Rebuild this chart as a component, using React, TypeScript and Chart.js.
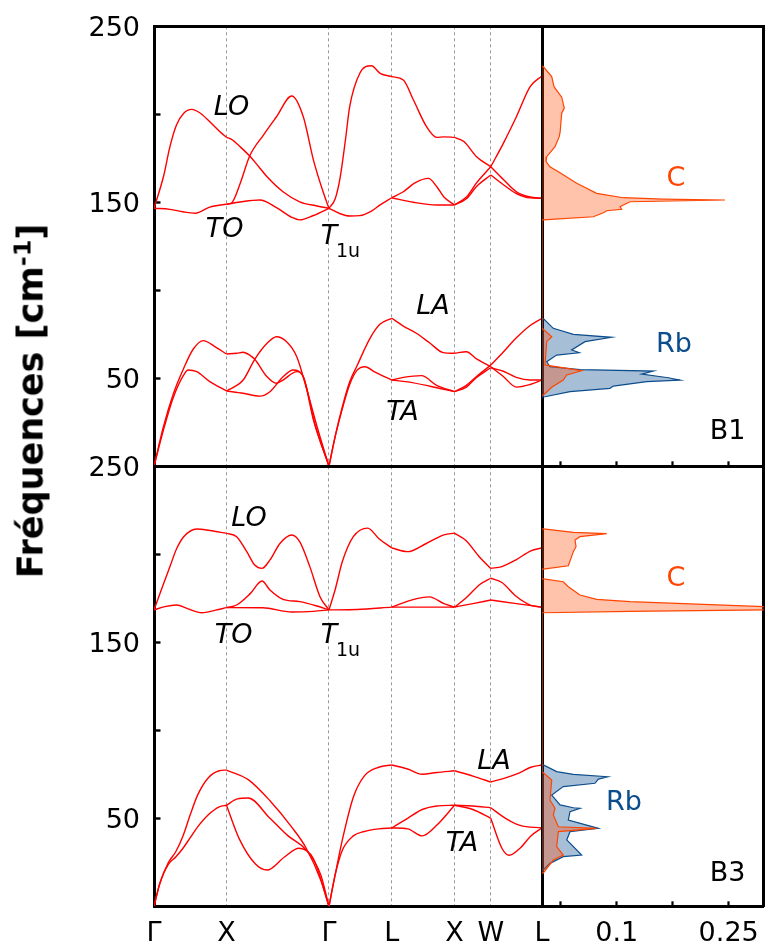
import React, { useEffect, useRef } from 'react';
import { Chart, registerables } from 'chart.js';

Chart.register(...registerables);
Chart.defaults.font.family = '"DejaVu Sans"';
Chart.defaults.color = '#000';

type Pt = [number, number];

// fcc path Γ–X–Γ–L–X–W–L, distances in units of 2π/a
const K_TICKS = [0, 1, 2.4142, 3.2802, 4.1463, 4.6463, 5.3534];
const K_LABELS = ['Γ', 'X', 'Γ', 'L', 'X', 'W', 'L'];
const FREQ_TICKS = [0, 50, 100, 150, 200, 250];
const FREQ_LABELS = ['', '50', '', '150', '', '250'];
const DOS_TICKS = [0.05, 0.1, 0.15, 0.2];
const DOS_LABELS = ['', '0.1', '', '0.25'];
const DOS_MIN = 0.0333;
const DOS_MAX = 0.2311;

// ---- B1 phonon branches, one list of [k, ω] per branch and per path segment ----
const B1_GX: Pt[][] = [
  [[0, 146.6], [0.13, 164.5], [0.22, 181.6], [0.31, 193.9], [0.41, 200.6], [0.52, 202.8], [0.64, 200.6], [0.77, 195.8], [0.91, 190.1], [1, 186.9]],
  [[0, 146.6], [0.22, 146.0], [0.4, 144.6], [0.57, 143.8], [0.77, 147.3], [1, 148.9]],
  [[0, 0], [0.13, 22.5], [0.27, 41.5], [0.41, 55.7], [0.54, 66.5], [0.68, 71.4], [0.84, 68.0], [1, 63.8]],
  [[0, 0], [0.13, 20.6], [0.27, 39.5], [0.41, 51.9], [0.47, 54.7], [0.59, 53.8], [0.77, 48.1], [1, 42.8]],
];
const B1_XG: Pt[][] = [
  [[1, 186.9], [1.07, 185.8], [1.19, 181.5], [1.32, 176.3], [1.44, 170.5], [1.56, 164.5], [1.78, 156.0], [2.01, 150.3], [2.25, 147.9], [2.4142, 146.6]],
  [[1, 148.9], [1.07, 149.6], [1.19, 160.8], [1.32, 176.3], [1.51, 188.2], [1.69, 198.6], [1.9, 210.4], [2.06, 198.6], [2.2, 174.0], [2.34, 155.1], [2.4142, 146.6]],
  [[1, 148.9], [1.19, 150.2], [1.46, 151.3], [1.69, 147.0], [1.9, 141.5], [2.01, 140.0], [2.2, 142.5], [2.4142, 146.6]],
  [[1, 63.8], [1.14, 64.2], [1.23, 64.8], [1.32, 63.2], [1.39, 60.8], [1.56, 50.9], [1.69, 47.2], [1.78, 49.0], [1.97, 53.8], [2.06, 50.9], [2.2, 26.3], [2.4142, 0]],
  [[1, 42.8], [1.23, 49.0], [1.39, 60.8], [1.56, 69.9], [1.69, 73.6], [1.83, 70.8], [1.97, 62.3], [2.11, 43.4], [2.25, 22.5], [2.4142, 0]],
  [[1, 42.8], [1.23, 41.5], [1.46, 39.9], [1.6, 42.4], [1.78, 50.9], [1.92, 54.7], [2.06, 50.9], [2.22, 24.0], [2.4142, 0]],
];
const B1_GL: Pt[][] = [
  [[2.4142, 146.6], [2.5, 152.0], [2.57, 164.5], [2.64, 185.0], [2.7, 204.3], [2.84, 223.3], [3.0, 227.6], [3.12, 223.3], [3.2802, 221.4]],
  [[2.4142, 146.6], [2.57, 143.5], [2.7, 142.2], [2.84, 142.4], [3.0, 145.0], [3.12, 148.5], [3.2802, 152.6]],
  [[2.4142, 0], [2.5, 17], [2.6, 34], [2.7, 48], [2.8, 57], [2.98, 72.7], [3.12, 80.8], [3.2802, 84.1]],
  [[2.4142, 0], [2.5, 17], [2.6, 33], [2.7, 46.5], [2.8, 54.5], [2.91, 56.6], [3.05, 53.5], [3.2802, 49.0]],
];
const B1_LX: Pt[][] = [
  [[3.2802, 221.4], [3.44, 219.5], [3.58, 208.1], [3.76, 193.0], [3.9, 186.9], [4.0, 187.2], [4.1463, 186.9]],
  [[3.2802, 152.6], [3.44, 156.0], [3.6, 161.0], [3.785, 163.6], [3.9, 159.0], [4.0, 153.0], [4.1463, 148.5]],
  [[3.2802, 152.6], [3.58, 150.0], [3.9, 148.5], [4.1463, 148.5]],
  [[3.2802, 84.1], [3.44, 79.7], [3.62, 75.6], [3.81, 69.9], [3.99, 64.6], [4.1463, 64.2]],
  [[3.2802, 49.0], [3.44, 50.5], [3.69, 51.5], [3.9, 46.0], [4.1463, 42.4]],
  [[3.2802, 49.0], [3.5, 48.0], [3.81, 45.5], [4.1463, 42.4]],
];
const B1_XW: Pt[][] = [
  [[4.1463, 186.9], [4.28, 184.4], [4.45, 175.9], [4.6463, 170.2]],
  [[4.1463, 148.5], [4.31, 153.0], [4.45, 161.0], [4.6463, 170.2]],
  [[4.1463, 148.5], [4.31, 152.0], [4.45, 159.0], [4.6463, 165.5]],
  [[4.1463, 64.2], [4.31, 65.1], [4.45, 61.0], [4.6463, 56.6]],
  [[4.1463, 42.4], [4.31, 46.0], [4.45, 51.0], [4.6463, 57.5]],
  [[4.1463, 42.4], [4.31, 45.0], [4.45, 50.5], [4.6463, 56.0]],
];
const B1_WL: Pt[][] = [
  [[4.6463, 170.2], [4.82, 183.5], [5.0, 198.6], [5.19, 215.7], [5.3534, 221.8]],
  [[4.6463, 170.2], [4.82, 163.0], [5.0, 156.0], [5.19, 153.0], [5.3534, 152.3]],
  [[4.6463, 165.5], [4.82, 160.0], [5.0, 155.0], [5.19, 152.5], [5.3534, 152.3]],
  [[4.6463, 56.6], [4.82, 51.0], [5.0, 45.0], [5.19, 46.5], [5.3534, 49.0]],
  [[4.6463, 57.5], [4.82, 65.0], [5.0, 73.0], [5.19, 80.0], [5.3534, 84.1]],
  [[4.6463, 56.0], [4.82, 54.0], [5.0, 50.5], [5.19, 49.0], [5.3534, 49.0]],
];

// ---- B3 phonon branches ----
const B3_GX: Pt[][] = [
  [[0, 168.4], [0.12, 182], [0.22, 193], [0.31, 203], [0.41, 210], [0.59, 214.4], [0.77, 213.5], [1, 211.9]],
  [[0, 168.4], [0.15, 170.3], [0.31, 171.2], [0.47, 169.0], [0.66, 166.8], [0.85, 168.3], [1, 169.7]],
  [[0, 0], [0.08, 13], [0.2, 25], [0.3, 31], [0.4, 40], [0.5, 52], [0.6, 63], [0.75, 73], [0.9, 77], [1, 77.4]],
  [[0, 0], [0.08, 13], [0.2, 24], [0.3, 28], [0.4, 33], [0.5, 39], [0.6, 45], [0.75, 52], [0.9, 56.5], [1, 57.4]],
];
const B3_XG: Pt[][] = [
  [[1, 211.9], [1.14, 210.0], [1.28, 201.5], [1.39, 193.9], [1.49, 192.0], [1.6, 196.8], [1.74, 206.3], [1.9, 211.0], [2.01, 207.2], [2.15, 193.0], [2.29, 175.9], [2.4142, 168.4]],
  [[1, 169.7], [1.14, 171.2], [1.33, 177.8], [1.49, 184.8], [1.6, 179.7], [1.78, 174.4], [2.01, 173.1], [2.25, 170.6], [2.4142, 168.4]],
  [[1, 169.7], [1.5, 169.6], [1.9, 167.2], [2.2, 167.6], [2.4142, 168.4]],
  [[1, 77.4], [1.3, 72], [1.6, 60], [1.9, 45], [2.1, 33], [2.3, 15], [2.4142, 0]],
  [[1, 57.4], [1.15, 61], [1.3, 61.5], [1.6, 50], [1.85, 40], [2.1, 32], [2.3, 18], [2.4142, 0]],
  [[1, 57.4], [1.18, 38], [1.4, 24], [1.56, 20.6], [1.8, 28], [2.0, 33], [2.2, 27], [2.4142, 0]],
];
const B3_GL: Pt[][] = [
  [[2.4142, 168.4], [2.5, 180], [2.6, 196], [2.75, 210], [2.95, 214.9], [3.1, 209], [3.2802, 203.6]],
  [[2.4142, 168.4], [2.8, 168.6], [3.2802, 170]],
  [[2.4142, 0], [2.5, 18], [2.6, 38], [2.75, 62], [2.9, 74], [3.1, 79], [3.2802, 80.3]],
  [[2.4142, 0], [2.5, 18], [2.6, 32], [2.75, 40], [2.9, 42.5], [3.1, 44], [3.2802, 44.5]],
];
const B3_LX: Pt[][] = [
  [[3.2802, 203.6], [3.5, 201.5], [3.75, 206], [4.0, 211], [4.1463, 212]],
  [[3.2802, 170], [3.55, 174], [3.8, 175.8], [4.0, 172], [4.1463, 170]],
  [[3.2802, 170], [3.7, 170], [4.1463, 170]],
  [[3.2802, 80.3], [3.5, 78], [3.7, 75], [3.9, 76], [4.1463, 77]],
  [[3.2802, 44.5], [3.5, 50], [3.7, 55], [3.9, 57], [4.1463, 57.4]],
  [[3.2802, 44.5], [3.5, 44], [3.7, 40], [3.9, 46], [4.1463, 57.4]],
];
const B3_XW: Pt[][] = [
  [[4.1463, 212], [4.3, 208], [4.5, 198], [4.6463, 192]],
  [[4.1463, 170], [4.3, 175], [4.5, 183], [4.6463, 186.4]],
  [[4.1463, 170], [4.4, 172], [4.6463, 174]],
  [[4.1463, 77], [4.4, 74], [4.6463, 70.6]],
  [[4.1463, 57.4], [4.4, 57], [4.6463, 56]],
  [[4.1463, 57.4], [4.4, 55], [4.6463, 50]],
];
const B3_WL: Pt[][] = [
  [[4.6463, 192], [4.8, 193], [5.0, 197], [5.2, 202], [5.3534, 203.6]],
  [[4.6463, 186.4], [4.8, 184], [5.0, 176], [5.2, 171], [5.3534, 170]],
  [[4.6463, 174], [5.0, 172], [5.3534, 170]],
  [[4.6463, 70.6], [4.85, 73], [5.05, 76], [5.2, 79], [5.3534, 80.3]],
  [[4.6463, 56], [4.85, 50], [5.05, 46], [5.3534, 44.5]],
  [[4.6463, 50], [4.8, 33], [4.9, 29], [5.05, 33], [5.2, 40], [5.3534, 44.5]],
];

// ---- projected DOS outlines, [density, ω], traced from high to low frequency ----
const B1_DOS_C: Pt[] = [
  [0.0333, 227.5], [0.0345, 227], [0.042, 221.4], [0.044, 215.7], [0.0509, 209.7], [0.0532, 203.5], [0.0509, 200.6],
  [0.0495, 190], [0.0487, 187.3], [0.0449, 181.6], [0.0375, 175.9], [0.0369, 173.1], [0.0404, 170.2], [0.0494, 166.8],
  [0.0643, 160.8], [0.0821, 155.1], [0.1059, 152.6], [0.1416, 151.8], [0.1967, 151.3], [0.1119, 150.3], [0.103, 147.5],
  [0.1045, 146], [0.0911, 145.2], [0.0881, 144.1], [0.0791, 141.8], [0.0345, 140], [0.0333, 140],
  [0.0333, 78.4], [0.042, 73.6], [0.0375, 70.8], [0.036, 57.6], [0.0687, 54.3], [0.0554, 51.9], [0.0523, 49.0],
  [0.042, 44.9], [0.0345, 40.5], [0.0333, 40],
];
const B1_DOS_RB: Pt[] = [
  [0.0333, 84.1], [0.0345, 84], [0.0434, 78.4], [0.0613, 75], [0.0955, 73.3], [0.0717, 70.8], [0.0598, 66.1], [0.0666, 64.5],
  [0.0464, 63.2], [0.0375, 59.4], [0.0404, 56.6], [0.0672, 54.9], [0.1327, 54.1], [0.1223, 52.4], [0.1461, 50.3], [0.1565, 49.0],
  [0.1268, 48.1], [0.097, 45.6], [0.094, 44.3], [0.0583, 42.4], [0.036, 39.5], [0.0333, 39.3],
];
const B3_DOS_C: Pt[] = [
  [0.0333, 214.5], [0.0345, 214.4], [0.0613, 212.5], [0.0911, 211.7], [0.0672, 210], [0.0628, 208.1], [0.0637, 204.3],
  [0.0613, 201.5], [0.0568, 193.5], [0.0345, 191.6], [0.0333, 191.6],
  [0.0333, 186.0], [0.0345, 186], [0.0523, 184.4], [0.0568, 181.6], [0.0672, 176.9], [0.0821, 174.4], [0.1119, 173.1],
  [0.2324, 170.2], [0.27, 169.3], [0.2324, 168.4], [0.1119, 167.6], [0.0345, 166.8], [0.0333, 166.8],
  [0.0333, 76.5], [0.042, 71.8], [0.0404, 60.4], [0.0449, 55.7], [0.0434, 51.9], [0.0479, 45.2], [0.0821, 44.3],
  [0.0479, 42.4], [0.0464, 33.9], [0.0523, 29.1], [0.0434, 26.3], [0.0345, 19], [0.0333, 18.9],
];
const B3_DOS_RB: Pt[] = [
  [0.0333, 80.3], [0.0345, 80.3], [0.0464, 76.5], [0.0613, 75], [0.092, 73.6], [0.0836, 72.3], [0.0806, 69.9], [0.0523, 68.0],
  [0.042, 63.2], [0.0494, 57.6], [0.0613, 56.0], [0.0672, 55.7], [0.0583, 53.8], [0.0568, 49.0], [0.0836, 44.3], [0.0583, 42.4],
  [0.0554, 37.7], [0.0687, 29.1], [0.0523, 28.2], [0.0404, 24.4], [0.0345, 20.6], [0.0333, 20.5],
];

// ---- in-plot labels, anchored in data coordinates ----
type Note = { text: string; x: number; y: number; color: string; italic?: boolean; sub?: string };

const B1_NOTES: Note[] = [
  { text: 'LO', x: 1.07, y: 203.7, color: '#000', italic: true },
  { text: 'TO', x: 0.973, y: 134.3, color: '#000', italic: true },
  { text: 'T', x: 2.414, y: 130.3, color: '#000', italic: true, sub: '1u' },
  { text: 'LA', x: 3.849, y: 90.5, color: '#000', italic: true },
  { text: 'TA', x: 3.429, y: 30.3, color: '#000', italic: true },
];
const B3_NOTES: Note[] = [
  { text: 'LO', x: 1.311, y: 220.1, color: '#000', italic: true },
  { text: 'TO', x: 1.097, y: 153.6, color: '#000', italic: true },
  { text: 'T', x: 2.414, y: 153.6, color: '#000', italic: true, sub: '1u' },
  { text: 'LA', x: 4.69, y: 82, color: '#000', italic: true },
  { text: 'TA', x: 4.25, y: 35.5, color: '#000', italic: true },
];

const C_COLOR = '#ff4500';
const C_FILL = 'rgba(255, 69, 0, 0.33)';
const RB_COLOR = '#0c4d8c';
const RB_FILL = 'rgba(12, 77, 140, 0.36)';
const BAND_COLOR = '#ff0000';
const GRID_COLOR = '#999999';

const B1_DOS_NOTES: Note[] = [
  { text: 'C', x: 0.153, y: 163.4, color: C_COLOR },
  { text: 'Rb', x: 0.1512, y: 69.2, color: RB_COLOR },
  { text: 'B1', x: 0.199, y: 19.5, color: '#000' },
];
const B3_DOS_NOTES: Note[] = [
  { text: 'C', x: 0.153, y: 186.2, color: C_COLOR },
  { text: 'Rb', x: 0.1065, y: 58.7, color: RB_COLOR },
  { text: 'B3', x: 0.199, y: 18.1, color: '#000' },
];

// ---- page geometry ----
const PAGE_W = 765;
const PAGE_H = 947;
const BAND_LEFT = 154;
const SPLIT_X = 542;
const DOS_RIGHT = 763.5;
const PANEL_TOP = { top: 26.3, bottom: 466.3 };
const PANEL_BOTTOM = { top: 466.3, bottom: 906.3 };
const FRAME_W = 3;
const TICK_FONT = { family: '"DejaVu Sans"', size: 27 };

// fixed axis sizes so each plot area lands on the panel grid; label overhang is not reserved
const fixHeight = (h: number) => (s: any) => {
  s.height = h;
  s.paddingLeft = 0;
  s.paddingRight = 0;
  s.paddingTop = 0;
  s.paddingBottom = 0;
};
const fixWidth = (w: number) => (s: any) => {
  s.width = w;
  s.paddingLeft = 0;
  s.paddingRight = 0;
  s.paddingTop = 0;
  s.paddingBottom = 0;
};

function notesPlugin(notes: Note[]) {
  return {
    id: 'panelNotes',
    afterDatasetsDraw(chart: any) {
      const { ctx } = chart;
      const xs = chart.scales.x;
      const ys = chart.scales.y;
      ctx.save();
      ctx.textBaseline = 'middle';
      for (const n of notes) {
        const px = xs.getPixelForValue(n.x);
        const py = ys.getPixelForValue(n.y);
        ctx.fillStyle = n.color;
        ctx.textAlign = 'center';
        ctx.font = `${n.italic ? 'italic ' : ''}27px "DejaVu Sans"`;
        ctx.fillText(n.text, px, py);
        if (n.sub) {
          ctx.textAlign = 'left';
          ctx.font = '19px "DejaVu Sans"';
          ctx.fillText(n.sub, px + 7, py + 15);
        }
      }
      ctx.restore();
    },
  };
}

function frameAxis(axis: 'x' | 'y', position: string, afterFit: (s: any) => void) {
  return {
    axis,
    type: 'linear',
    position,
    ticks: { display: false },
    grid: { display: false },
    border: { display: true, color: '#000', width: FRAME_W },
    afterFit,
  };
}

function bandChart(canvas: HTMLCanvasElement, segments: Pt[][][], rows: { top: number; bottom: number }, showX: boolean, notes: Note[]) {
  const datasets = segments.flat().map((branch) => ({
    data: branch.map(([k, f]) => ({ x: k, y: f })),
    borderColor: BAND_COLOR,
    borderWidth: 1.4,
    pointRadius: 0,
    fill: false,
    cubicInterpolationMode: 'monotone',
  }));
  return new Chart(canvas, {
    type: 'line',
    data: { datasets } as any,
    options: {
      animation: false,
      responsive: false,
      events: [],
      layout: { padding: 0 },
      plugins: { legend: { display: false }, tooltip: { enabled: false } },
      scales: {
        x: {
          type: 'linear',
          position: 'bottom',
          min: K_TICKS[0],
          max: K_TICKS[K_TICKS.length - 1],
          afterBuildTicks: (s: any) => { s.ticks = K_TICKS.map((value) => ({ value })); },
          afterFit: fixHeight(PAGE_H - rows.bottom),
          ticks: {
            display: showX, autoSkip: false, maxRotation: 0, padding: 11, color: '#000', font: TICK_FONT,
            callback: (_v: any, i: number) => K_LABELS[i],
          },
          grid: {
            drawTicks: false,
            lineWidth: 1,
            color: (c: any) => (c.index === 0 || c.index === K_TICKS.length - 1 ? 'rgba(0,0,0,0)' : GRID_COLOR),
          },
          border: { color: '#000', width: FRAME_W, dash: [3, 3] },
        },
        y: {
          type: 'linear',
          position: 'left',
          min: 0,
          max: 250,
          afterBuildTicks: (s: any) => { s.ticks = FREQ_TICKS.map((value) => ({ value })); },
          afterFit: fixWidth(BAND_LEFT),
          ticks: {
            padding: 20.5, labelOffset: 2.5, color: '#000', font: TICK_FONT,
            callback: (_v: any, i: number) => FREQ_LABELS[i],
          },
          grid: { drawOnChartArea: false, tickLength: -6.5, tickWidth: 2.4, tickColor: '#000' },
          border: { color: '#000', width: FRAME_W },
        },
        xTop: frameAxis('x', 'top', fixHeight(rows.top)),
        yRight: frameAxis('y', 'right', fixWidth(PAGE_W - SPLIT_X)),
      } as any,
    },
    plugins: [notesPlugin(notes)],
  } as any);
}

function dosChart(canvas: HTMLCanvasElement, carbon: Pt[], rubidium: Pt[], rows: { top: number; bottom: number }, showX: boolean, notes: Note[]) {
  const species = [
    { pts: carbon, line: C_COLOR, area: C_FILL },
    { pts: rubidium, line: RB_COLOR, area: RB_FILL },
  ];
  const datasets = species.map((s) => ({
    data: s.pts.map(([d, f]) => ({ x: d, y: f })),
    borderColor: s.line,
    backgroundColor: s.area,
    borderWidth: 1.2,
    pointRadius: 0,
    tension: 0,
    fill: 'shape',
  }));
  return new Chart(canvas, {
    type: 'line',
    data: { datasets } as any,
    options: {
      animation: false,
      responsive: false,
      events: [],
      layout: { padding: 0 },
      plugins: { legend: { display: false }, tooltip: { enabled: false } },
      scales: {
        x: {
          type: 'linear',
          position: 'bottom',
          min: DOS_MIN,
          max: DOS_MAX,
          afterBuildTicks: (s: any) => { s.ticks = DOS_TICKS.map((value) => ({ value })); },
          afterFit: fixHeight(PAGE_H - rows.bottom),
          ticks: {
            display: showX, autoSkip: false, maxRotation: 0, padding: 16, color: '#000', font: TICK_FONT,
            callback: (_v: any, i: number) => DOS_LABELS[i],
          },
          grid: { drawOnChartArea: false, tickLength: -5, tickWidth: 2.2, tickColor: '#000' },
          border: { color: '#000', width: FRAME_W },
        },
        y: {
          type: 'linear',
          position: 'left',
          min: 0,
          max: 250,
          afterFit: fixWidth(SPLIT_X),
          ticks: { display: false },
          grid: { display: false },
          border: { color: '#000', width: FRAME_W },
        },
        xTop: frameAxis('x', 'top', fixHeight(rows.top)),
        yRight: frameAxis('y', 'right', fixWidth(PAGE_W - DOS_RIGHT)),
      } as any,
    },
    plugins: [notesPlugin(notes)],
  } as any);
}

const canvasStyle: React.CSSProperties = { position: 'absolute', left: 0, top: 0 };

export default function App() {
  const b1Band = useRef<HTMLCanvasElement>(null);
  const b1Dos = useRef<HTMLCanvasElement>(null);
  const b3Band = useRef<HTMLCanvasElement>(null);
  const b3Dos = useRef<HTMLCanvasElement>(null);

  useEffect(() => {
    const charts = [
      bandChart(b1Band.current!, [B1_GX, B1_XG, B1_GL, B1_LX, B1_XW, B1_WL], PANEL_TOP, false, B1_NOTES),
      dosChart(b1Dos.current!, B1_DOS_C, B1_DOS_RB, PANEL_TOP, false, B1_DOS_NOTES),
      bandChart(b3Band.current!, [B3_GX, B3_XG, B3_GL, B3_LX, B3_XW, B3_WL], PANEL_BOTTOM, true, B3_NOTES),
      dosChart(b3Dos.current!, B3_DOS_C, B3_DOS_RB, PANEL_BOTTOM, true, B3_DOS_NOTES),
    ];
    return () => charts.forEach((c) => c.destroy());
  }, []);

  return (
    <div style={{ position: 'absolute', left: 0, top: 0, width: PAGE_W, height: PAGE_H, background: '#fff', overflow: 'hidden' }}>
      <canvas ref={b1Band} width={PAGE_W} height={PAGE_H} style={canvasStyle} />
      <canvas ref={b1Dos} width={PAGE_W} height={PAGE_H} style={canvasStyle} />
      <canvas ref={b3Band} width={PAGE_W} height={PAGE_H} style={canvasStyle} />
      <canvas ref={b3Dos} width={PAGE_W} height={PAGE_H} style={canvasStyle} />
      <div
        style={{
          position: 'absolute',
          left: 31,
          top: 401,
          transform: 'translate(-50%, -50%) rotate(-90deg)',
          fontFamily: '"DejaVu Sans"',
          fontWeight: 'bold',
          fontSize: 35,
          lineHeight: 1,
          whiteSpace: 'nowrap',
          color: '#000',
        }}
      >
        Fréquences [cm<sup style={{ fontSize: '0.68em', verticalAlign: '0.5em', lineHeight: 0 }}>-1</sup>]
      </div>
    </div>
  );
}
